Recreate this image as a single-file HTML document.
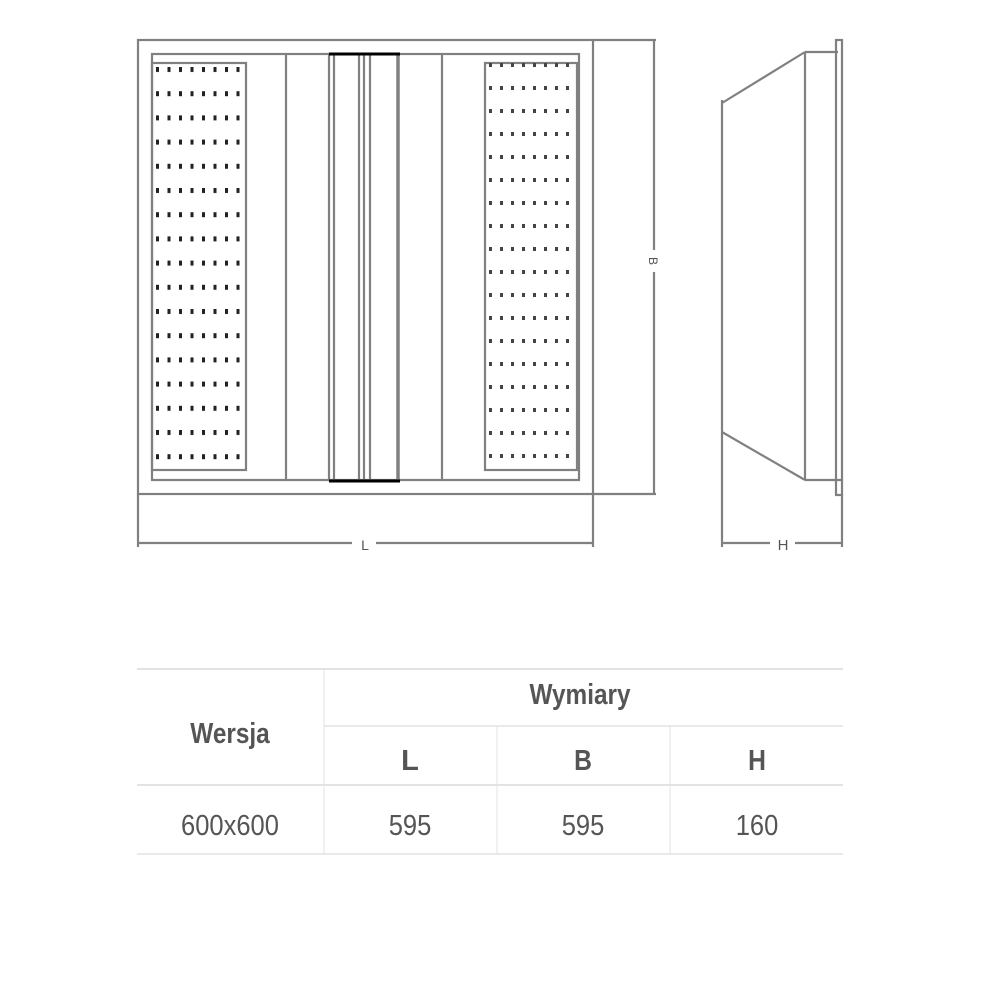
<!DOCTYPE html>
<html><head><meta charset="utf-8"><style>
html,body{margin:0;padding:0;background:#fff;width:1000px;height:1000px;overflow:hidden}
svg{display:block}
.t{font-family:"Liberation Sans",sans-serif;fill:#555}
</style></head><body>
<svg width="1000" height="1000" viewBox="0 0 1000 1000" xmlns="http://www.w3.org/2000/svg">
<defs>
<pattern id="dl" x="156" y="67" width="11.5" height="24.2" patternUnits="userSpaceOnUse"><rect x="0" y="0" width="3" height="5" fill="#222"/></pattern>
<pattern id="dr" x="489" y="63" width="11" height="23" patternUnits="userSpaceOnUse"><rect x="0" y="0" width="3" height="4" fill="#444"/></pattern>
</defs>
<g fill="none" stroke="#808080" stroke-width="2.2">
<rect x="138" y="40" width="455" height="454"/>
<rect x="152" y="54" width="427" height="426"/>
<rect x="152" y="63" width="94" height="407"/>
<rect x="485" y="63" width="92" height="407"/>
<line x1="286" y1="54" x2="286" y2="480"/>
<line x1="329" y1="54" x2="329" y2="480"/>
<line x1="334" y1="54" x2="334" y2="480"/>
<line x1="359" y1="54" x2="359" y2="480"/>
<line x1="364" y1="54" x2="364" y2="480"/>
<line x1="370" y1="54" x2="370" y2="480"/>
<line x1="398" y1="54" x2="398" y2="480" stroke-width="3.5"/>
<line x1="442" y1="54" x2="442" y2="480"/>
<line x1="593" y1="40" x2="656" y2="40"/>
<line x1="593" y1="494" x2="656" y2="494"/>
<line x1="654" y1="40" x2="654" y2="250"/>
<line x1="654" y1="272" x2="654" y2="494"/>
<line x1="138" y1="494" x2="138" y2="547"/>
<line x1="593" y1="494" x2="593" y2="547"/>
<line x1="138" y1="543" x2="352" y2="543"/>
<line x1="376" y1="543" x2="593" y2="543"/>
<line x1="722" y1="100" x2="722" y2="547"/>
<line x1="722" y1="103" x2="805" y2="52"/>
<line x1="805" y1="52" x2="838" y2="52"/>
<line x1="805" y1="52" x2="805" y2="480"/>
<line x1="722" y1="432" x2="805" y2="480"/>
<line x1="805" y1="480" x2="842" y2="480"/>
<rect x="836" y="40" width="6" height="455"/>
<line x1="842" y1="495" x2="842" y2="547"/>
<line x1="722" y1="543" x2="770" y2="543"/>
<line x1="795" y1="543" x2="842" y2="543"/>
</g>
<rect x="155" y="66" width="88" height="402" fill="url(#dl)"/>
<rect x="488" y="63" width="88" height="405" fill="url(#dr)"/>
<line x1="329" y1="54" x2="400" y2="54" stroke="#000" stroke-width="3"/>
<line x1="329" y1="481" x2="400" y2="481" stroke="#000" stroke-width="3"/>
<text class="t" x="365" y="550" font-size="14" text-anchor="middle">L</text>
<text class="t" x="654" y="266" font-size="12" text-anchor="middle" transform="rotate(90 654 261)">B</text>
<text class="t" x="783" y="550" font-size="15" text-anchor="middle">H</text>
<g stroke="#e3e3e3">
<line x1="137" y1="669" x2="843" y2="669" stroke-width="2"/>
<line x1="324" y1="726" x2="843" y2="726" stroke-width="1.5"/>
<line x1="137" y1="785" x2="843" y2="785" stroke-width="2"/>
<line x1="137" y1="854" x2="843" y2="854" stroke-width="1.5"/>
<line x1="324" y1="669" x2="324" y2="854" stroke-width="1"/>
<line x1="497" y1="726" x2="497" y2="854" stroke-width="1"/>
<line x1="670" y1="726" x2="670" y2="854" stroke-width="1"/>
</g>
<g class="t" text-anchor="middle" font-weight="bold" font-size="29">
<text x="230" y="743" transform="translate(230 0) scale(0.84 1) translate(-230 0)">Wersja</text>
<text x="580" y="704" transform="translate(580 0) scale(0.84 1) translate(-580 0)">Wymiary</text>
<text x="410" y="770">L</text>
<text x="583" y="770" transform="translate(583 0) scale(0.85 1) translate(-583 0)">B</text>
<text x="757" y="770" transform="translate(757 0) scale(0.85 1) translate(-757 0)">H</text>
</g>
<g class="t" text-anchor="middle" font-size="29">
<text x="230" y="835" transform="translate(230 0) scale(0.88 1) translate(-230 0)">600x600</text>
<text x="410" y="835" transform="translate(410 0) scale(0.88 1) translate(-410 0)">595</text>
<text x="583" y="835" transform="translate(583 0) scale(0.88 1) translate(-583 0)">595</text>
<text x="757" y="835" transform="translate(757 0) scale(0.88 1) translate(-757 0)">160</text>
</g>
</svg>
</body></html>
